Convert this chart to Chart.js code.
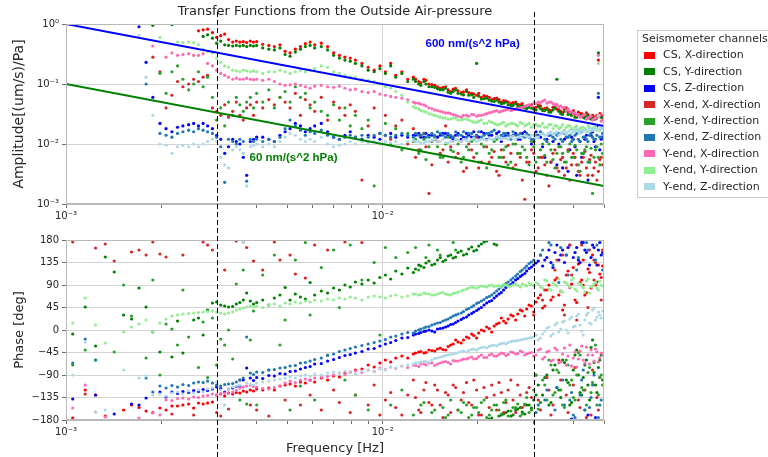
<!DOCTYPE html>
<html><head><meta charset="utf-8">
<script src="https://cdn.jsdelivr.net/npm/chart.js@4.4.1/dist/chart.umd.min.js"></script>
<style>
html,body{margin:0;padding:0;background:#fff;width:768px;height:457px;overflow:hidden;}
canvas{position:absolute;left:0;}
#ampCanvas{top:0;}
#phaseCanvas{top:228px;}
</style></head><body>
<canvas id="ampCanvas" width="768" height="228"></canvas>
<canvas id="phaseCanvas" width="768" height="229"></canvas>
<script>
// ---------------- DATA ----------------
const chartTitle = 'Transfer Functions from the Outside Air-pressure';
const seriesNames = ['CS, X-direction','CS, Y-direction','CS, Z-direction',
  'X-end, X-direction','X-end, Y-direction','X-end, Z-direction',
  'Y-end, X-direction','Y-end, Y-direction','Y-end, Z-direction'];
const seriesColors = ['#ff0000','#008000','#0000ff','#d62728','#2ca02c','#1f77b4','#ff69b4','#90ee90','#add8e6'];

// main frequency bins [Hz]
const freq = [
0.00105,0.00115,0.00124,0.00133,0.00142,0.00152,0.00161,0.00170,0.00179,0.00188,
0.00198,0.00207,0.00216,0.00225,0.00234,0.00244,0.00253,0.00262,0.00271,0.00280,
0.00290,0.00299,0.00308,0.00317,0.00326,0.00336,0.00345,0.00354,0.00363,0.00372,
0.00382,0.00391,0.00400,0.00418,0.00437,0.00455,0.00474,0.00492,0.00510,0.00530,
0.00550,0.00570,0.00590,0.00610,0.0064,0.0067,0.0070,0.0073,0.0076,0.0079,
0.0082,0.0086,0.0090,0.0094,0.0098,0.0102,0.0106,0.0110,0.0115,0.0120,
0.0125,0.0130,0.0135,0.0140,0.0146,0.0152,0.0158,0.0164,0.0170,0.0177,
0.0184,0.0191,0.0198,0.0205,0.0213,0.0221,0.0229,0.0237,0.0245,0.0254,
0.0263,0.0272,0.0281,0.0290,0.030,0.031,0.032,0.033,0.034,0.035,
0.036,0.037,0.038,0.039,0.040,0.041,0.042,0.043,0.044,0.045,
0.046,0.047,0.048,0.049];
// extra high-frequency bins [Hz]
const freqHi = [
0.0127,0.0132,0.0137,0.0143,0.0149,0.0155,0.0161,0.0167,0.0173,0.0180,
0.0187,0.0194,0.0201,0.0209,0.0217,0.0225,0.0233,0.0241,0.0249,0.0258,
0.0267,0.0276,0.0285,0.0295,0.0305,0.0315,0.0325,0.0335,0.0345,0.0355,
0.0365,0.0375,0.0385,0.0395,0.0405,0.0415,0.0425,0.0435,0.0445,0.0455,
0.0465,0.0475,0.0485,0.0495];

// Amplitude [(um/s)/Pa]
const ampCSX = [
null,null,null,null,null,null,null,null,null,null,
null,null,null,null,null,null,null,0.77,0.80,0.82,
0.72,0.60,0.64,0.68,0.55,0.50,0.52,0.50,0.51,0.49,
0.52,0.50,0.51,0.46,0.44,0.42,0.45,0.35,0.33,0.38,
0.42,0.47,0.50,0.45,0.48,0.42,0.33,0.30,0.28,0.27,
0.25,0.22,0.19,0.17,0.20,0.16,0.22,0.14,0.16,0.12,
0.13,0.11,0.12,0.10,0.095,0.085,0.09,0.075,0.085,0.072,
0.08,0.07,0.065,0.06,0.062,0.055,0.058,0.05,0.052,0.047,
0.05,0.045,0.042,0.044,0.04,0.045,0.038,0.04,0.036,0.042,
0.037,0.033,0.04,0.034,0.036,0.03,0.032,0.03,0.033,0.028,
0.03,0.027,0.25,0.03];
const ampCSXHi = [
0.12,0.105,0.115,0.098,0.09,0.088,0.08,0.082,0.077,0.074,
0.072,0.068,0.07,0.064,0.06,0.057,0.055,0.053,0.05,0.049,
0.046,0.047,0.043,0.045,0.041,0.043,0.039,0.037,0.041,0.038,
0.035,0.038,0.034,0.033,0.031,0.034,0.032,0.029,0.031,0.029,
0.028,0.03,0.032,0.027];
const ampCSY = [
null,null,null,null,null,null,null,null,null,0.95,
null,null,0.98,null,null,null,null,null,0.62,0.66,
0.58,0.48,0.52,0.45,0.44,0.43,0.44,0.43,0.44,0.42,
0.44,0.43,0.44,0.40,0.38,0.37,0.40,0.31,0.29,0.34,
0.38,0.42,0.44,0.40,0.42,0.37,0.30,0.27,0.25,0.24,
0.22,0.20,0.17,0.16,0.18,0.15,0.20,0.13,0.15,0.11,
0.12,0.10,0.11,0.09,0.088,0.08,0.085,0.07,0.08,0.068,
0.075,0.066,0.22,0.056,0.058,0.052,0.054,0.047,0.05,0.044,
0.047,0.042,0.04,0.041,0.038,0.042,0.036,0.038,0.034,0.04,
0.035,0.031,0.037,0.032,0.034,0.028,0.03,0.028,0.031,0.027,
0.028,0.026,0.33,0.028];
const ampCSYHi = [
0.11,0.095,0.1,0.09,0.083,0.08,0.073,0.075,0.07,0.066,
0.065,0.06,0.063,0.057,0.054,0.051,0.05,0.048,0.045,0.044,
0.042,0.043,0.039,0.04,0.037,0.039,0.036,0.034,0.037,0.12,
0.032,0.035,0.031,0.03,0.028,0.031,0.029,0.027,0.029,0.026,
0.026,0.027,0.03,0.025];
const ampCSZ = [
null,null,null,null,null,null,null,0.9,0.23,0.06,
0.022,0.018,0.016,0.019,0.02,0.021,0.022,0.02,0.022,0.02,
0.018,0.014,0.012,0.007,0.009,0.012,0.011,0.01,0.006,0.003,
0.011,0.012,0.013,0.013,0.012,0.011,0.014,0.016,0.018,0.022,
0.02,0.016,0.018,0.02,0.022,0.016,0.013,0.012,0.014,0.016,
0.013,0.012,0.014,0.013,0.012,0.014,0.015,0.013,0.014,0.013,
0.014,0.015,0.013,0.014,0.012,0.014,0.015,0.013,0.014,0.012,
0.015,0.013,0.014,0.016,0.012,0.014,0.015,0.011,0.014,0.013,
0.015,0.012,0.016,0.013,0.011,0.014,0.009,0.012,0.005,0.015,
0.01,0.004,0.013,0.008,0.012,0.003,0.011,0.007,0.014,0.005,
0.016,0.009,0.06,0.012];
const ampCSZHi = [
0.014,0.013,0.015,0.014,0.013,0.015,0.014,0.012,0.015,0.013,
0.014,0.016,0.013,0.015,0.014,0.012,0.016,0.013,0.015,0.014,
0.012,0.015,0.014,0.01,0.016,0.013,0.006,0.014,0.011,0.0045,
0.015,0.012,0.0035,0.013,0.009,0.016,0.006,0.012,0.0025,0.014,
0.011,0.02,0.008,0.013];
const ampXX = [
null,null,null,null,null,null,null,null,null,0.28,
0.16,0.04,0.065,0.11,0.09,0.1,0.12,0.11,0.13,0.14,
0.04,0.035,0.03,0.045,0.028,0.035,0.05,0.03,0.025,0.04,
0.045,0.03,0.05,0.04,0.055,0.045,0.06,0.05,0.04,0.07,
0.03,0.055,0.045,0.035,0.06,0.025,0.05,0.04,0.03,0.045,
0.035,0.0025,0.02,0.04,0.015,0.03,0.012,0.02,0.025,0.01,
0.018,0.008,0.015,0.0015,0.012,0.007,0.02,0.009,0.006,0.011,
0.004,0.008,0.013,0.005,0.009,0.006,0.0035,0.008,0.005,0.007,
0.0045,0.006,0.0012,0.005,0.007,0.004,0.006,0.003,0.005,0.008,
0.0035,0.006,0.004,0.0025,0.007,0.0045,0.003,0.006,0.004,0.0055,
0.003,0.005,0.0035,0.006];
const ampXXHi = [
0.006,0.014,0.009,0.0045,0.011,0.008,0.005,0.013,0.007,0.0035,
0.01,0.006,0.004,0.009,0.005,0.0075,0.003,0.006,0.0095,0.004,
0.007,0.0025,0.005,0.008,0.0035,0.006,0.0045,0.002,0.007,0.004,
0.0055,0.003,0.008,0.0045,0.006,0.0035,0.005,0.0075,0.003,0.0065,
0.004,0.0025,0.0055,0.0045];
const ampXY = [
null,null,null,null,null,null,null,null,null,null,
0.15,0.07,0.16,0.2,0.12,0.08,0.1,0.16,0.09,0.13,
0.06,0.025,0.04,0.02,0.05,0.03,0.06,0.045,0.035,0.05,
0.06,0.04,0.07,0.05,0.08,0.04,0.06,0.075,0.05,0.09,
0.06,0.07,0.04,0.05,0.035,0.03,0.045,0.025,0.04,0.02,
0.03,0.018,0.025,0.002,0.015,0.022,0.01,0.018,0.008,0.015,
0.011,0.007,0.012,0.009,0.013,0.006,0.01,0.008,0.012,0.005,
0.009,0.011,0.007,0.01,0.004,0.008,0.012,0.006,0.009,0.005,
0.01,0.007,0.008,0.0045,0.009,0.006,0.01,0.005,0.008,0.004,
0.009,0.007,0.005,0.01,0.006,0.008,0.0035,0.007,0.009,0.005,
0.0015,0.008,0.006,0.01];
const ampXYHi = [
0.012,0.008,0.0055,0.011,0.009,0.006,0.013,0.0075,0.01,0.006,
0.008,0.012,0.005,0.009,0.007,0.011,0.006,0.008,0.0045,0.01,
0.007,0.009,0.006,0.011,0.005,0.008,0.0065,0.01,0.0055,0.007,
0.009,0.005,0.0075,0.006,0.0095,0.0045,0.007,0.008,0.005,0.0085,
0.006,0.009,0.0045,0.007];
const ampXZ = [
null,null,null,null,null,null,null,null,0.1,null,
0.015,0.014,0.013,0.015,0.016,0.017,0.016,0.018,0.017,0.016,
0.015,0.013,0.009,0.0023,0.012,0.011,0.01,0.012,0.011,0.0024,
0.012,0.011,0.012,0.011,0.012,0.011,0.013,0.018,0.025,0.02,
0.017,0.014,0.016,0.015,0.017,0.014,0.013,0.012,0.013,0.014,
0.013,0.014,0.013,0.014,0.015,0.014,0.013,0.014,0.015,0.014,
0.013,0.014,0.015,0.013,0.014,0.015,0.013,0.014,0.016,0.014,
0.013,0.015,0.014,0.013,0.015,0.016,0.013,0.014,0.015,0.012,
0.014,0.015,0.013,0.014,0.012,0.013,0.015,0.011,0.014,0.012,
0.015,0.011,0.013,0.014,0.012,0.015,0.011,0.013,0.012,0.014,
0.013,0.012,0.07,0.013];
const ampXZHi = [
0.015,0.014,0.013,0.015,0.016,0.014,0.015,0.013,0.014,0.016,
0.015,0.013,0.016,0.014,0.015,0.017,0.013,0.015,0.014,0.016,
0.014,0.013,0.015,0.012,0.014,0.016,0.012,0.015,0.013,0.014,
0.012,0.015,0.013,0.011,0.014,0.012,0.016,0.013,0.011,0.015,
0.012,0.014,0.013,0.015];
const ampYX = [
null,null,null,null,null,null,null,null,null,0.43,
null,0.28,0.33,0.3,0.31,0.32,0.3,0.3,0.32,0.22,
0.2,0.17,0.15,0.14,0.13,0.12,0.125,0.12,0.12,0.125,
0.12,0.118,0.12,0.115,0.12,0.11,0.1,0.095,0.097,0.1,
0.095,0.09,0.085,0.092,0.095,0.09,0.088,0.092,0.085,0.08,
0.082,0.075,0.072,0.075,0.068,0.065,0.062,0.06,0.058,0.055,
0.05,0.048,0.045,0.04,0.037,0.035,0.033,0.032,0.03,0.028,
0.03,0.031,0.029,0.03,0.032,0.034,0.036,0.035,0.037,0.036,
0.038,0.04,0.042,0.045,0.048,0.05,0.052,0.048,0.05,0.045,
0.042,0.04,0.036,0.034,0.032,0.03,0.028,0.03,0.026,0.028,
0.025,0.027,0.3,0.024];
const ampYXHi = [
0.048,0.046,0.043,0.039,0.036,0.034,0.033,0.031,0.029,0.03,
0.029,0.031,0.03,0.031,0.033,0.035,0.034,0.036,0.038,0.037,
0.039,0.041,0.044,0.043,0.047,0.049,0.054,0.05,0.047,0.046,
0.043,0.041,0.038,0.035,0.033,0.031,0.029,0.031,0.027,0.029,
0.026,0.028,0.03,0.025];
const ampYY = [
null,null,null,null,null,null,null,null,null,null,
0.6,null,null,0.5,0.49,0.5,0.49,0.45,0.38,0.35,
0.33,0.27,0.23,0.2,0.19,0.17,0.165,0.16,0.17,0.165,
0.16,0.165,0.16,0.15,0.16,0.16,0.17,0.16,0.15,0.16,
0.17,0.16,0.17,0.18,0.2,0.19,0.16,0.15,0.14,0.13,
0.13,0.12,0.115,0.11,0.1,0.09,0.085,0.075,0.065,0.05,
0.042,0.038,0.035,0.032,0.03,0.028,0.027,0.026,0.027,0.025,
0.026,0.024,0.023,0.025,0.022,0.023,0.021,0.022,0.02,0.022,
0.021,0.023,0.02,0.022,0.021,0.02,0.022,0.019,0.021,0.02,
0.018,0.021,0.019,0.02,0.017,0.02,0.018,0.019,0.017,0.019,
0.018,0.02,0.22,0.018];
const ampYYHi = [
0.04,0.036,0.034,0.031,0.029,0.027,0.026,0.027,0.025,0.026,
0.025,0.023,0.024,0.022,0.024,0.022,0.021,0.023,0.021,0.022,
0.02,0.022,0.021,0.019,0.021,0.02,0.019,0.021,0.018,0.02,
0.019,0.017,0.02,0.018,0.019,0.017,0.019,0.018,0.02,0.017,
0.019,0.017,0.018,0.019];
const ampYZ = [
null,null,null,null,null,null,null,0.65,0.13,0.03,
0.01,0.0095,0.007,0.009,0.0095,0.009,0.01,0.009,0.01,0.011,
0.012,0.011,0.006,0.0045,0.004,0.008,0.009,0.008,0.007,0.002,
0.009,0.0095,0.01,0.009,0.01,0.009,0.011,0.013,0.015,0.014,
0.012,0.011,0.012,0.011,0.013,0.01,0.009,0.0095,0.01,0.011,
0.01,0.011,0.0105,0.011,0.01,0.011,0.0105,0.011,0.01,0.011,
0.0115,0.011,0.0105,0.011,0.012,0.011,0.0105,0.011,0.012,0.011,
0.0115,0.012,0.011,0.012,0.0115,0.012,0.013,0.012,0.0125,0.013,
0.012,0.013,0.014,0.013,0.014,0.013,0.015,0.014,0.016,0.015,
0.014,0.016,0.015,0.017,0.016,0.018,0.015,0.017,0.016,0.018,
0.017,0.019,0.03,0.018];
const ampYZHi = [
0.011,0.0105,0.011,0.0115,0.011,0.012,0.0105,0.011,0.0115,0.012,
0.011,0.0125,0.0115,0.012,0.0125,0.012,0.013,0.0125,0.012,0.0135,
0.013,0.0125,0.0135,0.014,0.013,0.0145,0.014,0.015,0.0145,0.016,
0.015,0.0155,0.016,0.015,0.017,0.016,0.0165,0.017,0.016,0.0175,
0.017,0.018,0.0165,0.018];

// Phase [deg]
const phCSX = [
-176,-120,-130,-172,null,-160,-150,-155,-162,-165,
-156,-160,-152,-152,-150,-148,-156,-146,-148,-146,
-144,-130,-128,-132,-126,-128,-125,-126,-122,-124,
-120,-122,-118,-120,-116,-120,-112,-110,-108,-112,
-104,-106,-100,-104,-96,-100,-92,-94,-86,-84,
-80,-78,-70,-74,-66,-60,-64,-56,-52,-56,
-48,-44,-46,-40,-42,-36,-40,-30,-20,-26,
-14,-8,-16,0,6,-4,12,24,14,30,
20,40,28,50,36,64,44,80,60,100,
70,40,110,85,125,55,95,140,75,115,
150,90,130,105];
const phCSXHi = [
-46,-43,-45,-41,-38,-39,-33,-28,-24,-20,
-16,-11,-6,-2,3,8,14,18,22,28,
32,38,42,48,56,70,48,90,66,104,
78,50,118,92,60,132,100,70,122,84,
140,96,112,128];
const phCSY = [
-8,46,-32,146,116,30,22,84,46,-4,
-44,null,-54,18,-46,null,20,24,-10,40,
54,56,50,48,46,47,52,55,60,74,
58,52,55,60,50,64,70,85,60,72,
66,62,95,70,78,74,84,80,90,86,
96,92,100,94,105,110,102,118,112,124,
115,130,125,138,132,145,140,150,146,158,
152,166,160,172,178,-176,170,-170,-165,-172,
-160,-155,-168,-150,-140,-110,-130,-90,-145,-70,
-120,-60,-100,-150,-80,-40,-125,-95,-60,-140,
-20,-110,-75,-50];
const phCSYHi = [
122,128,134,130,140,137,148,144,155,150,
162,158,168,176,-178,172,-172,-168,-162,-170,
-158,-164,-150,-156,-130,-145,-95,-150,-80,-115,
-135,-65,-105,-145,-50,-90,-130,-70,-110,-35,
-85,-125,-60,-100];
const phCSZ = [
-138,null,-130,null,-168,null,-148,-150,-136,null,
-124,-134,-124,-127,-123,-125,-121,-123,-119,-121,
-118,-114,-117,-124,-118,-116,-113,-112,-100,-76,
-96,-101,-95,-97,-91,-92,-87,-88,-83,-82,
-78,-75,-73,-68,-67,-62,-59,-55,-51,-49,
-46,-43,-38,-37,-32,-28,-25,-21,-16,-15,
-10,-7,-3,0,-4,3,6,11,15,21,
26,33,39,45,54,59,68,75,85,91,
100,107,113,123,130,138,128,145,135,155,
140,160,150,170,145,165,135,175,155,130,
170,-175,160,150];
const phCSZHi = [
-8,-5,-2,-2,2,4,8,12,18,24,
30,36,42,50,57,64,72,80,88,95,
103,110,118,126,134,150,140,160,125,170,
150,135,165,-178,155,140,175,160,-170,145,
165,130,175,155];
const phXX = [
176,-128,164,172,138,null,156,160,150,176,
152,146,-168,null,150,null,-170,null,176,170,
160,-165,-172,120,-158,null,178,-100,176,165,
-150,138,-160,120,-172,176,140,-140,150,112,
-150,104,-130,170,-160,160,-120,-145,176,-165,
-130,175,-150,-110,-170,-140,-125,-155,-170,-130,
-100,-160,-120,-145,-110,-150,-125,-165,-115,-140,
-105,-150,-120,-170,-135,-110,-160,-125,-145,-100,
-165,-130,-150,-115,30,-140,60,-95,-170,120,
-60,150,-130,170,-110,20,-155,90,-175,160,
-80,135,-160,60];
const phXXHi = [
-135,-165,-105,-150,-120,-175,-130,-110,-160,-125,
-145,-100,-170,-115,-155,-130,-105,-165,-120,-140,
-110,-155,-125,-135,-90,-160,80,-120,-150,140,
-100,30,-165,110,-75,-140,170,-120,45,-170,
100,-135,-95,160];
const phXY = [
-70,-40,-60,null,-44,90,28,null,-56,100,
-90,12,2,-30,80,-14,null,-75,16,-95,
24,-70,-18,-30,0,-58,92,-140,120,-148,
-20,38,-150,110,-80,150,-30,20,-160,140,
-112,175,30,-140,125,-50,160,45,-100,170,
-130,100,-160,135,-10,165,-150,145,-120,155,
-170,120,-145,170,-160,150,-175,-140,160,-165,
-150,-170,-155,-145,-175,-160,-150,-168,-140,-162,
-155,-172,-148,-165,-120,-158,-100,-140,-70,-125,
-85,-150,-60,-110,-135,-90,-50,-120,-150,-75,
-105,-30,-130,-90];
const phXYHi = [
165,-150,145,-165,160,-155,-170,175,-160,-145,
-175,-155,-165,-140,-170,-150,-160,-145,-172,-155,
-148,-168,-135,-160,-90,-145,-110,-60,-130,-80,
-120,-155,-70,-100,-140,-45,-115,-160,-85,-125,
-65,-150,-95,-110];
const phXZ = [
-66,-18,-60,null,null,null,null,null,-96,-124,
-112,-116,-111,-114,-109,-111,-106,-104,-105,-102,
-106,-110,-112,-109,-108,-107,-104,-100,-96,-14,
-86,-89,-84,-85,-80,-79,-76,-75,-72,-71,
-66,-65,-62,-59,-56,-51,-48,-43,-40,-37,
-34,-31,-28,-25,-22,-19,-14,-12,-8,-5,
-6,0,4,7,12,15,20,25,30,34,
41,46,53,58,65,70,78,86,93,100,
108,117,124,133,140,-150,160,-120,170,-160,
95,-100,150,-140,-170,120,-130,-80,175,-155,
-110,140,-175,-140];
const phXZHi = [
-2,2,6,10,14,18,22,28,32,37,
43,49,55,61,67,74,82,90,96,104,
112,120,128,136,-165,150,-140,175,130,-115,
165,-150,110,-125,-175,145,-100,-160,160,-135,
-90,170,-150,120];
const phYX = [
-156,-110,-164,-174,null,null,null,-176,null,-166,
-170,-140,-141,-137,-136,-138,-134,-135,-132,-131,
-128,-129,-127,-126,-127,-124,-121,-116,-114,-112,
-110,-113,-114,-117,-118,-115,-112,-106,-102,-105,
-100,-98,-101,-96,-94,-93,-90,-86,-89,-84,
-82,-85,-80,-83,-76,-79,-74,-77,-72,-75,
-70,-73,-68,-66,-71,-66,-63,-68,-62,-60,
-58,-54,-57,-50,-55,-48,-52,-46,-51,-44,
-48,-42,-50,-46,-52,-40,-58,-44,-62,-36,
-66,-48,-70,-30,-56,-74,-42,-60,-34,-68,
-50,-38,-64,-46];
const phYXHi = [
-71,-68,-70,-66,-68,-64,-65,-61,-62,-58,
-56,-58,-53,-55,-50,-52,-49,-47,-49,-45,
-47,-44,-48,-45,-50,-38,-54,-42,-60,-40,
-64,-36,-52,-72,-44,-58,-32,-66,-50,-40,
-62,-44,-56,-48];
const phYY = [
14,64,10,-26,null,-4,6,12,20,-4,
14,22,28,30,32,33,34,35,36,37,
38,36,34,32,34,36,40,42,44,46,
48,46,48,45,50,52,48,54,52,56,
54,58,56,60,58,62,60,64,62,66,
64,60,66,68,66,64,68,70,66,68,
72,70,74,72,70,74,72,70,74,78,
82,86,84,88,86,90,88,86,90,88,
92,86,90,94,88,92,84,98,80,90,
102,76,94,86,104,78,92,84,98,74,
88,96,80,90];
const phYYHi = [
72,71,73,70,72,75,71,73,76,80,
84,85,86,87,89,87,89,91,87,90,
89,92,88,91,95,86,100,82,94,88,
78,96,90,100,82,94,88,76,102,86,
92,84,98,88];
const phYZ = [
-90,-24,-164,-160,null,-80,null,-96,-92,-130,
-128,-132,-126,-124,-128,-122,-126,-120,-124,-118,
-116,-104,-120,-150,-118,-114,-112,-110,176,-106,
-108,-110,-106,-104,-102,-100,-98,-96,-94,-96,
-92,-90,-92,-88,-90,-86,-84,-86,-82,-84,
-88,-82,-80,-84,-78,-80,-74,-76,-72,-70,
-68,-65,-63,-64,-57,-54,-51,-49,-47,-43,
-44,-39,-40,-35,-36,-31,-32,-27,-28,-23,
-22,-20,-18,-16,-14,-20,-8,4,-12,10,
-4,16,0,22,6,28,10,-10,30,14,
40,20,36,24];
const phYZHi = [
-66,-64,-63,-60,-56,-53,-50,-48,-45,-42,
-41,-38,-37,-34,-33,-30,-29,-26,-25,-22,
-21,-19,-17,-15,-10,-16,-2,6,-8,14,
2,18,-6,26,8,32,-2,20,34,12,
44,26,30,38];

// reference lines
const refLineFreq = [0.001, 0.05];
const ref600 = [1.0, 0.02];
const ref60 = [0.1, 0.002];
const refLabels = [
  {text: '600 nm/(s^2 hPa)', f: 0.01366, a: 0.464, color: '#0000ff'},
  {text: '60 nm/(s^2 hPa)', f: 0.0038, a: 0.00585, color: '#008000'}
];
const dashedFreqs = [0.003, 0.03];
const freqTicks = [0.001,0.002,0.003,0.004,0.005,0.006,0.007,0.008,0.009,0.01,0.02,0.03,0.04,0.05];
const ampTicks = [0.001,0.01,0.1,1];
const phaseTicks = [-180,-135,-90,-45,0,45,90,135,180];

// ---------------- RENDER ----------------
const ampSeries = [ampCSX, ampCSY, ampCSZ, ampXX, ampXY, ampXZ, ampYX, ampYY, ampYZ];
const ampSeriesHi = [ampCSXHi, ampCSYHi, ampCSZHi, ampXXHi, ampXYHi, ampXZHi, ampYXHi, ampYYHi, ampYZHi];
const phaseSeries = [phCSX, phCSY, phCSZ, phXX, phXY, phXZ, phYX, phYY, phYZ];
const phaseSeriesHi = [phCSXHi, phCSYHi, phCSZHi, phXXHi, phXYHi, phXZHi, phYXHi, phYYHi, phYZHi];
const TEXT = '#262626', GRID = '#d4d4d4', FRAME = '#b8b8b8', TICK = '#707070';
const FONT = '"DejaVu Sans", "Liberation Sans", sans-serif';

function pts(vals, fr) { const o = []; vals.forEach((v, i) => { if (v !== null) o.push({x: fr[i], y: v}); }); return o; }
function isDecade(v) { const l = Math.log10(v); return Math.abs(l - Math.round(l)) < 1e-6; }
const SUP = {'0':'\u2070','1':'\u00b9','2':'\u00b2','3':'\u00b3','-':'\u207b'};
function decLabel(v) { if (!isDecade(v)) return ''; const e = String(Math.round(Math.log10(v))); return '10' + e.split('').map(c => SUP[c]).join(''); }

function pointSets(series, seriesHi) {
  return series.map((vals, i) => ({
    label: seriesNames[i], data: pts(vals, freq).concat(pts(seriesHi[i], freqHi)).sort((p, q) => p.x - q.x), showLine: false,
    backgroundColor: seriesColors[i], borderColor: seriesColors[i],
    pointRadius: 1.6, pointBorderWidth: 0, pointHoverRadius: 0, order: 9 - i
  }));
}
function xAxis(h, withTitle) {
  return {
    type: 'logarithmic', min: 0.001, max: 0.05,
    afterBuildTicks: s => { s.ticks = freqTicks.map(v => ({value: v})); },
    afterFit: s => { s.height = h; },
    ticks: { autoSkip: false, maxRotation: 0, color: TEXT, padding: 2, font: {family: FONT, size: 10}, callback: v => decLabel(v) },
    grid: { color: c => (c.tick && isDecade(c.tick.value)) ? GRID : 'rgba(0,0,0,0)', tickColor: TICK, tickLength: 4 },
    border: { color: FRAME },
    title: withTitle ? { display: true, text: 'Frequency [Hz]', color: TEXT, font: {family: FONT, size: 13}, padding: {top: 0, bottom: 1} } : {display: false}
  };
}
function frameAndDash(chart, yStart) {
  const {ctx, chartArea: a, scales: {x}} = chart;
  ctx.save();
  ctx.strokeStyle = FRAME; ctx.lineWidth = 1;
  ctx.strokeRect(a.left + 0.5, a.top + 0.5, a.right - a.left - 1, a.bottom - a.top - 1);
  ctx.strokeStyle = '#000'; ctx.setLineDash([5, 3]);
  dashedFreqs.forEach(f => {
    const px = Math.round(x.getPixelForValue(f)) + 0.5;
    ctx.beginPath(); ctx.moveTo(px, yStart); ctx.lineTo(px, chart.height); ctx.stroke();
  });
  ctx.restore();
}

const topDecor = {
  id: 'topDecor',
  afterDatasetsDraw(chart) {
    const {ctx, chartArea: a, scales: {x, y}} = chart;
    ctx.save();
    ctx.font = 'bold 11.5px "Liberation Sans", Arial, sans-serif';
    ctx.textBaseline = 'middle'; ctx.textAlign = 'left';
    refLabels.forEach(l => { ctx.fillStyle = l.color; ctx.fillText(l.text, x.getPixelForValue(l.f), y.getPixelForValue(l.a)); });
    ctx.fillStyle = TEXT; ctx.font = '13px ' + FONT; ctx.textAlign = 'center';
    ctx.fillText(chartTitle, (a.left + a.right) / 2, 12);
    ctx.restore();
    frameAndDash(chart, 12);
    // legend
    ctx.save();
    ctx.fillStyle = '#fff'; ctx.fillRect(637.5, 30.5, 140, 167);
    ctx.strokeStyle = '#cccccc'; ctx.lineWidth = 1; ctx.strokeRect(637.5, 30.5, 140, 167);
    ctx.font = '11px ' + FONT; ctx.textBaseline = 'middle'; ctx.textAlign = 'left';
    ctx.fillStyle = TEXT; ctx.fillText('Seismometer channels', 642, 39.5);
    seriesNames.forEach((n, i) => {
      const cy = 55.5 + i * 16.4;
      ctx.fillStyle = seriesColors[i]; ctx.fillRect(644, Math.round(cy - 3.5), 11, 7);
      ctx.fillStyle = TEXT; ctx.fillText(n, 663, cy);
    });
    ctx.restore();
  }
};
const bottomDecor = { id: 'bottomDecor', afterDatasetsDraw(chart) { frameAndDash(chart, 0); } };

const lineSets = [
  { data: [{x: refLineFreq[0], y: ref600[0]}, {x: refLineFreq[1], y: ref600[1]}], showLine: true, borderColor: '#0000ff', borderWidth: 2, pointRadius: 0, order: -1 },
  { data: [{x: refLineFreq[0], y: ref60[0]}, {x: refLineFreq[1], y: ref60[1]}], showLine: true, borderColor: '#008000', borderWidth: 2, pointRadius: 0, order: -1 }
];

new Chart(document.getElementById('ampCanvas'), {
  type: 'scatter',
  data: { datasets: pointSets(ampSeries, ampSeriesHi).concat(lineSets) },
  options: {
    responsive: false, animation: false, devicePixelRatio: 1, events: [],
    layout: { padding: { left: 0, right: 164, top: 24, bottom: 0 } },
    plugins: { legend: {display: false}, tooltip: {enabled: false} },
    scales: {
      x: xAxis(24, false),
      y: {
        type: 'logarithmic', min: 0.001, max: 1,
        afterBuildTicks: s => { s.ticks = ampTicks.map(v => ({value: v})); },
        afterFit: s => { s.width = 66; },
        ticks: { color: TEXT, padding: 3, font: {family: FONT, size: 10}, callback: v => decLabel(v) },
        grid: { color: GRID, tickColor: TICK, tickLength: 4 },
        border: { color: FRAME },
        title: { display: true, text: 'Amplitude[(um/s)/Pa]', color: TEXT, font: {family: FONT, size: 14}, padding: {top: 11, bottom: 0} }
      }
    }
  },
  plugins: [topDecor]
});

new Chart(document.getElementById('phaseCanvas'), {
  type: 'scatter',
  data: { datasets: pointSets(phaseSeries, phaseSeriesHi) },
  options: {
    responsive: false, animation: false, devicePixelRatio: 1, events: [],
    layout: { padding: { left: 0, right: 164, top: 12, bottom: 0 } },
    plugins: { legend: {display: false}, tooltip: {enabled: false} },
    scales: {
      x: xAxis(37, true),
      y: {
        min: -180, max: 180,
        afterBuildTicks: s => { s.ticks = phaseTicks.map(v => ({value: v})); },
        afterFit: s => { s.width = 66; },
        ticks: { color: TEXT, padding: 3, font: {family: FONT, size: 10}, callback: v => String(v).replace('-', '\u2212') },
        grid: { color: GRID, tickColor: TICK, tickLength: 4 },
        border: { color: FRAME },
        title: { display: true, text: 'Phase [deg]', color: TEXT, font: {family: FONT, size: 13}, padding: {top: 12, bottom: 0} }
      }
    }
  },
  plugins: [bottomDecor]
});
</script>
</body></html>
